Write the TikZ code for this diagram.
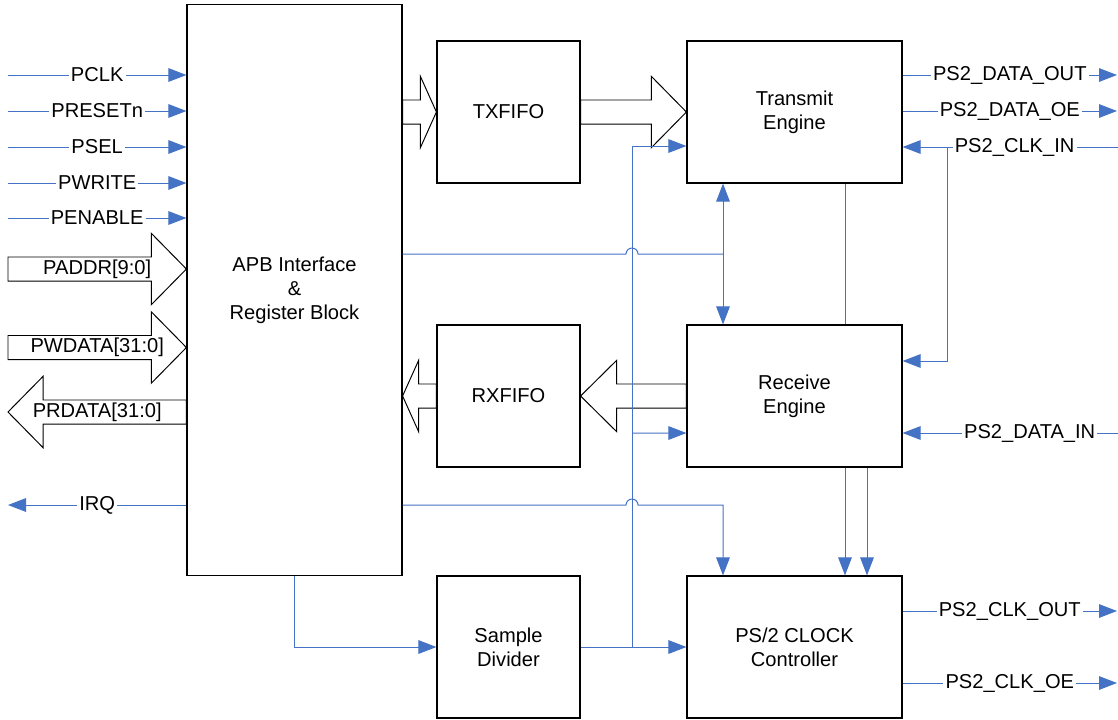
\documentclass[tikz,border=0pt]{standalone}
\usepackage{fontspec}
\setmainfont{Liberation Sans}
\usetikzlibrary{arrows.meta,calc}
\definecolor{SigBlue}{RGB}{68,114,196}

% wide bus arrow: tail, tip, head length
\newcommand{\busarrow}[3]{%
  \draw[bus] ($(#1)+(0,3mm)$) -- ($(#2)!#3!(#1)+(0,3mm)$)
    -- ($(#2)!#3!(#1)+(0,8.9mm)$) -- (#2)
    -- ($(#2)!#3!(#1)+(0,-8.9mm)$) -- ($(#2)!#3!(#1)+(0,-3mm)$)
    -- ($(#1)+(0,-3mm)$) -- cycle;}

\begin{document}
\begin{tikzpicture}[x=0.025cm, y=-0.025cm,
    box/.style={rectangle, draw=black, fill=white, line width=0.8pt,
                minimum width=5.375cm, minimum height=3.55cm,
                align=center, font=\fontsize{14.3}{17}\selectfont},
    fifo/.style={box, minimum width=3.575cm},
    sig/.style={draw=SigBlue, line width=0.7pt},
    arrow/.style={sig, -{Triangle[length=4.5mm, width=3.4mm]}},
    twoway/.style={sig, {Triangle[length=4.5mm, width=3.4mm]}-{Triangle[length=4.5mm, width=3.4mm]}},
    lbl/.style={fill=white, inner sep=1.5pt, font=\fontsize{14.3}{17}\selectfont},
    bus/.style={draw=black, line width=0.7pt}
]
    \useasboundingbox (0,0) rectangle (1118,719);

    \node[box, minimum height=14.25cm] (apb) at (294.5,290) {APB Interface\\\&\\Register Block};
    \node[fifo] (txfifo) at (508.5,112) {TXFIFO};
    \node[box] (txeng) at (794.5,112) {Transmit\\Engine};
    \node[fifo] (rxfifo) at (508.5,396) {RXFIFO};
    \node[box] (rxeng) at (794.5,396) {Receive\\Engine};
    \node[fifo] (sdiv) at (508.5,647) {Sample\\Divider};
    \node[box] (clkc) at (794.5,647) {PS/2 CLOCK\\Controller};

    % APB side
    \coordinate (pclk) at (8,75);
    \coordinate (prst) at (8,111);
    \coordinate (psel) at (8,147);
    \coordinate (pwrite) at (8,183);
    \coordinate (penable) at (8,218);
    \coordinate (paddr) at (8,269);
    \coordinate (pwdata) at (8,347.5);
    \coordinate (prdata) at (8,412);
    \coordinate (irq) at (8,505);

    \draw[arrow] (pclk) -- node[lbl] {PCLK} (pclk -| apb.west);
    \draw[arrow] (prst) -- node[lbl] {PRESETn} (prst -| apb.west);
    \draw[arrow] (psel) -- node[lbl] {PSEL} (psel -| apb.west);
    \draw[arrow] (pwrite) -- node[lbl] {PWRITE} (pwrite -| apb.west);
    \draw[arrow] (penable) -- node[lbl] {PENABLE} (penable -| apb.west);
    \draw[arrow] (irq -| apb.west) -- node[lbl] {IRQ} (irq);

    \busarrow{paddr}{paddr -| apb.west}{8.75mm}
    \busarrow{pwdata}{pwdata -| apb.west}{8.75mm}
    \busarrow{prdata -| apb.west}{prdata}{8.75mm}
    \node[lbl, fill=none] at ($(paddr)!0.5!(paddr -| apb.west)$) {PADDR[9:0]};
    \node[lbl, fill=none] at ($(pwdata)!0.5!(pwdata -| apb.west)$) {PWDATA[31:0]};
    \node[lbl, fill=none] at ($(prdata)!0.5!(prdata -| apb.west)$) {PRDATA[31:0]};

    % data path
    \busarrow{apb.east |- txfifo.west}{txfifo.west}{4mm}
    \busarrow{txfifo.east}{txeng.west}{8.75mm}
    \busarrow{rxeng.west}{rxfifo.east}{9mm}
    \busarrow{rxfifo.west}{apb.east |- rxfifo.west}{4mm}

    % control lines
    \coordinate (tap) at (632,647);
    \coordinate (jA) at (723,254);
    \coordinate (jB) at (723,505);
    \coordinate (c1) at (845,0);
    \coordinate (c2) at (867,0);
    \coordinate (jC) at (947,147);

    \draw[sig] (apb.east |- jA) -- ($(tap |- jA)+(-1.5mm,0)$)
        arc[start angle=180, end angle=0, radius=1.5mm] -- (jA);
    \draw[twoway] (jA |- txeng.south) -- (jA |- rxeng.north);
    \draw[arrow] (apb.east |- jB) -- ($(tap |- jB)+(-1.5mm,0)$)
        arc[start angle=180, end angle=0, radius=1.5mm] -- (jB) -- (jB |- clkc.north);

    \draw[sig] (txeng.south -| c1) -- (rxeng.north -| c1);
    \draw[arrow] (rxeng.south -| c1) -- (clkc.north -| c1);
    \draw[arrow] (rxeng.south -| c2) -- (clkc.north -| c2);

    \draw[arrow] (apb.south) |- (sdiv.west);
    \draw[arrow] (sdiv.east) -- (clkc.west);
    \draw[arrow] (tap) |- ([yshift=-8.5mm]txeng.west);
    \draw[arrow] (tap |- rxeng.west) ++(0,37) -- ([yshift=-9.25mm]rxeng.west);

    % PS/2 side
    \coordinate (dout) at (1117,75);
    \coordinate (doe) at (1117,111);
    \coordinate (clkin) at (1118,147);
    \coordinate (datin) at (1118,433);
    \coordinate (cout) at (1117,611);
    \coordinate (coe) at (1117,683);

    \draw[arrow] (dout -| txeng.east) -- node[lbl] {PS2\_DATA\_OUT} (dout);
    \draw[arrow] (doe -| txeng.east) -- node[lbl] {PS2\_DATA\_OE} (doe);
    \draw[arrow] (clkin) -- node[lbl, pos=0.48] {PS2\_CLK\_IN} (clkin -| txeng.east);
    \draw[arrow] (jC) |- ([yshift=8.75mm]rxeng.east);
    \draw[arrow] (datin) -- node[lbl, pos=0.41] {PS2\_DATA\_IN} (datin -| rxeng.east);
    \draw[arrow] (cout -| clkc.east) -- node[lbl] {PS2\_CLK\_OUT} (cout);
    \draw[arrow] (coe -| clkc.east) -- node[lbl] {PS2\_CLK\_OE} (coe);
\end{tikzpicture}
\end{document}
